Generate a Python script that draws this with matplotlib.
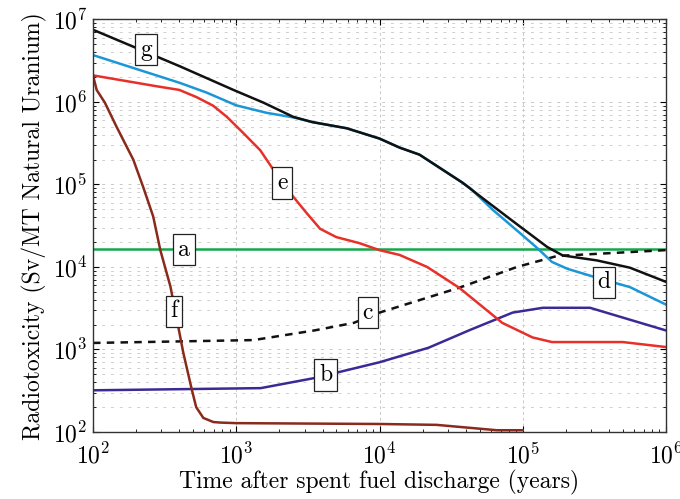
import matplotlib
matplotlib.use("Agg")
import matplotlib.pyplot as plt

plt.rcParams['font.family'] = 'serif'
plt.rcParams['font.serif'] = ['cmr10']
plt.rcParams['mathtext.fontset'] = 'cm'
plt.rcParams['axes.formatter.use_mathtext'] = True

# years after discharge / radiotoxicity (Sv per MT natural uranium)
g_t = [100, 405, 955, 1.55e3, 2.5e3, 3.4e3, 5.9e3, 1.0e4, 1.38e4, 1.9e4, 3.8e4, 5.2e4,
       9.1e4, 1.48e5, 1.9e5, 3.3e5, 5.6e5, 1.0e6]
g_v = [7.5e6, 2.7e6, 1.4e6, 9.8e5, 6.6e5, 5.7e5, 4.8e5, 3.6e5, 2.8e5, 2.3e5, 1.05e5, 6.9e4,
       3.3e4, 1.75e4, 1.38e4, 1.2e4, 9.8e3, 6.6e3]

d_t = [100, 405, 620, 1.0e3, 1.62e3, 2.5e3, 3.4e3, 5.9e3, 1.0e4, 1.38e4, 1.9e4, 3.8e4,
       4.3e4, 6.2e4, 9.5e4, 1.26e5, 1.6e5, 2.05e5, 3.3e5, 5.6e5, 1.0e6]
d_v = [3.7e6, 1.7e6, 1.3e6, 9.1e5, 7.4e5, 6.5e5, 5.7e5, 4.8e5, 3.6e5, 2.8e5, 2.3e5, 1.05e5,
       9.0e4, 4.9e4, 2.6e4, 1.7e4, 1.15e4, 9.5e3, 7.4e3, 5.7e3, 3.5e3]

e_t = [100, 278, 400, 525, 690, 860, 1.12e3, 1.47e3, 1.82e3, 2.5e3, 3.1e3, 3.85e3, 5.0e3,
       7.2e3, 1.0e4, 1.38e4, 2.15e4, 3.6e4, 7.2e4, 1.17e5, 1.6e5, 5.0e5, 1.0e6]
e_v = [2.1e6, 1.55e6, 1.4e6, 1.15e6, 9.0e5, 6.6e5, 4.2e5, 2.6e5, 1.5e5, 7.1e4, 4.5e4, 2.9e4, 2.3e4,
       1.95e4, 1.6e4, 1.4e4, 1.0e4, 5.6e3, 2.1e3, 1.4e3, 1.23e3, 1.23e3, 1.07e3]

f_t = [100, 106, 121, 146, 191, 224, 263, 295, 347, 389, 427, 490, 525, 589, 692, 776,
       1.0e3, 1.0e4, 2.5e4, 6.6e4, 1.0e5]
f_v = [2.1e6, 1.4e6, 9.8e5, 5.0e5, 2.0e5, 9.3e4, 4.1e4, 1.6e4, 5.8e3, 2.1e3, 910, 323, 200,
       148, 132, 130, 128, 125, 122, 105, 105]

b_t = [100, 1.48e3, 3.5e3, 1.0e4, 2.2e4, 4.3e4, 8.5e4, 1.38e5, 2.95e5, 1.0e6]
b_v = [320, 340, 450, 700, 1.05e3, 1.73e3, 2.8e3, 3.2e3, 3.2e3, 1.7e3]

c_t = [100, 1.32e3, 3.5e3, 6.6e3, 1.0e4, 3.6e4, 9.1e4, 1.74e5, 5.0e5, 1.0e6]
c_v = [1.2e3, 1.3e3, 1.7e3, 2.1e3, 2.8e3, 5.6e3, 1.0e4, 1.36e4, 1.5e4, 1.6e4]

a_t = [100, 1.0e6]
a_v = [1.63e4, 1.63e4]

fig = plt.figure(figsize=(6.8, 4.99), dpi=100)
ax = fig.add_axes([0.1368, 0.1343, 0.8426, 0.8267])

ax.plot(a_t, a_v, color='#12a84a', lw=1.8)
ax.plot(b_t, b_v, color='#3b2a96', lw=1.8)
ax.plot(c_t, c_v, color='#111111', lw=1.8, ls=(0, (3, 2.5)))
ax.plot(d_t, d_v, color='#1b96d6', lw=1.8)
ax.plot(e_t, e_v, color='#e8302a', lw=1.8)
ax.plot(f_t, f_v, color='#8a2a1c', lw=1.8)
ax.plot(g_t, g_v, color='#111111', lw=1.8)

ax.set_xscale('log')
ax.set_yscale('log')
ax.set_xlim(1e2, 1e6)
ax.set_ylim(1e2, 1e7)

ax.grid(True, which='major', axis='x', color='#c8c8c8', ls=(0, (3, 3)), lw=0.7)
ax.grid(True, which='major', axis='y', color='#c8c8c8', ls=(0, (3, 6)), lw=0.7)
ax.grid(True, which='minor', axis='y', color='#cfcfcf', ls=(0, (3, 6)), lw=0.7)

ax.tick_params(which='both', direction='in', top=True, right=True, labelsize=17)
ax.tick_params(which='major', length=4)
ax.tick_params(which='minor', length=2)
ax.tick_params(axis='x', pad=8)
ax.tick_params(axis='y', pad=4)
for s in ax.spines.values():
    s.set_color('#333333')
    s.set_linewidth(1.0)

ax.set_xlabel('Time after spent fuel discharge (years)', fontsize=17, labelpad=1)
ax.set_ylabel('Radiotoxicity (Sv/MT Natural Uranium)', fontsize=17, labelpad=4)

# curve letters in boxes
tags = ['g', 'e', 'a', 'f', 'c', 'b', 'd']
tag_x = [234, 2.09e3, 431, 367, 8.3e3, 4.2e3, 3.7e5]
tag_y = [4.3e6, 1.05e5, 1.63e4, 2.9e3, 2.8e3, 490, 6.5e3]
for t, x, y in zip(tags, tag_x, tag_y):
    ax.text(x, y, t, fontsize=17, ha='center', va='center',
            bbox=dict(boxstyle='square,pad=0.2', fc='white', ec='#222222', lw=0.9))

fig.savefig('out.png', dpi=100)
